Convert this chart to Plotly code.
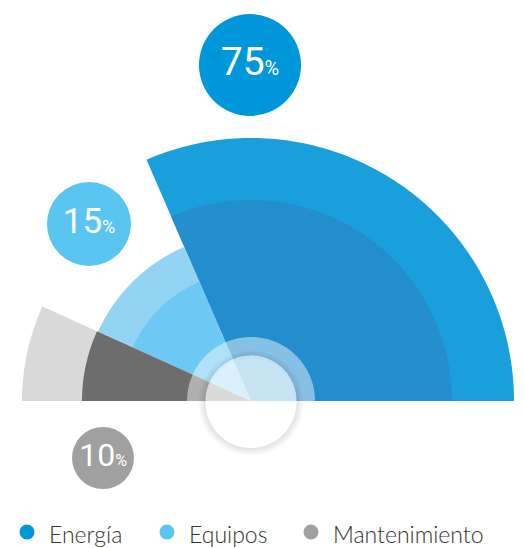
import numpy as np
import plotly.graph_objects as go

# =========================
# Datos
# =========================
categorias = ["Energía", "Equipos", "Mantenimiento"]
porcentajes = [75, 15, 10]
angulo_desde = [0, 113.4, 155.6]
angulo_hasta = [113.4, 155.6, 180]
radio_exterior = [263, 168, 229]
radio_interior = [201, 130, 169]

# =========================
# Estilos
# =========================
color_exterior = ["#1a9fdd", "#93d4f5", "#d9d9d9"]
color_interior = ["#238dce", "#6dc8f3", "#6d6d6d"]
color_burbuja = ["#0096da", "#5bc5f2", "#a0a0a0"]
burbuja_x = [-1, -162, -148]
burbuja_y = [336, 177, -57]
burbuja_d = [102, 84, 62]
burbuja_fuente = [39, 35, 32]
leyenda_x = [-224, -84, 60]
leyenda_y = -131
ancho, alto = 524, 548
centro_px = (251, 401)   # centro del semicírculo en la página (x, y desde arriba)
margen_body = 8          # margen por defecto del <body> en el html
fuente_num = "Roboto, Liberation Sans, sans-serif"
fuente_txt = "Lato, Open Sans, sans-serif"


def sector(a0, a1, r, n=120):
    t = np.radians(np.linspace(a0, a1, n))
    x = np.concatenate([[0], r * np.cos(t), [0]])
    y = np.concatenate([[0], r * np.sin(t), [0]])
    return x, y


def anillo(r0, r1, dy=0, n=180):
    t = np.radians(np.linspace(0, 360, n))
    x = np.concatenate([r1 * np.cos(t), r0 * np.cos(t[::-1])])
    y = np.concatenate([r1 * np.sin(t), r0 * np.sin(t[::-1])]) + dy
    return x, y


fig = go.Figure()

# sectores exteriores e interiores
for i, cat in enumerate(categorias):
    for r, col in ((radio_exterior[i], color_exterior[i]), (radio_interior[i], color_interior[i])):
        x, y = sector(angulo_desde[i], angulo_hasta[i], r)
        fig.add_trace(go.Scatter(x=x, y=y, fill="toself", fillcolor=col, mode="none",
                                 showlegend=False, hoverinfo="skip"))

# anillo translúcido + círculo central con sombra
x, y = anillo(45.7, 64)
fig.add_trace(go.Scatter(x=x, y=y, fill="toself", fillcolor="rgba(255,255,255,0.45)",
                         mode="none", showlegend=False, hoverinfo="skip"))
for k in range(6):
    x, y = anillo(45, 46 + k * 1.3, dy=-2)
    fig.add_trace(go.Scatter(x=x, y=y, fill="toself", fillcolor="rgba(0,0,0,0.018)",
                             mode="none", showlegend=False, hoverinfo="skip"))
x, y = sector(0, 360, 45.7, n=200)
fig.add_trace(go.Scatter(x=x[1:-1], y=y[1:-1], fill="toself", fillcolor="rgba(255,255,255,0.75)",
                         mode="none", showlegend=False, hoverinfo="skip"))

# burbujas de porcentaje
fig.add_trace(go.Scatter(
    x=burbuja_x, y=burbuja_y, mode="markers+text",
    marker=dict(size=burbuja_d, color=color_burbuja, opacity=1, line=dict(width=0)),
    text=[f"{p}<span style='font-size:{int(s * 0.52)}px'>%</span>"
          for p, s in zip(porcentajes, burbuja_fuente)],
    textposition="middle center",
    textfont=dict(family=fuente_num, size=burbuja_fuente, color="white", weight=400),
    showlegend=False, hoverinfo="skip"))

# leyenda (puntos + textos)
fig.add_trace(go.Scatter(
    x=leyenda_x, y=[leyenda_y] * len(categorias), mode="markers",
    marker=dict(size=15, color=color_burbuja, opacity=1, line=dict(width=0)),
    showlegend=False, hoverinfo="skip"))
for cat, lx in zip(categorias, leyenda_x):
    fig.add_annotation(x=lx + 20, y=leyenda_y - 2, text=cat, showarrow=False,
                       xanchor="left", yanchor="middle",
                       font=dict(family=fuente_txt, size=23, color="#333333", weight=300))

cx, cy = centro_px
fig.update_layout(
    width=ancho, height=alto,
    margin=dict(l=0, r=0, t=0, b=0),
    paper_bgcolor="white", plot_bgcolor="white",
    showlegend=False,
    xaxis=dict(range=[margen_body - cx, ancho + margen_body - cx], visible=False, fixedrange=True),
    yaxis=dict(range=[cy - alto - margen_body, cy - margen_body], visible=False, fixedrange=True),
    font=dict(family=fuente_txt),
)

fig.write_html("out.html")
